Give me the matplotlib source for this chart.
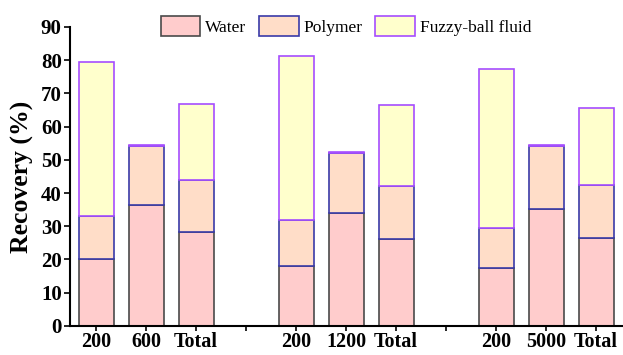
import numpy as np
import matplotlib
matplotlib.use("Agg")
import matplotlib.pyplot as plt
from matplotlib.patches import Patch

# stacked recovery per slug size, three groups with gaps between
labels = ['200', '600', 'Total', '', '200', '1200', 'Total', '', '200', '5000', 'Total']
positions = [0, 1, 2, 4, 5, 6, 8, 9, 10]

water = [20.0, 36.3, 28.2, 18.0, 34.0, 26.2, 17.3, 35.2, 26.6]
polymer = [13.2, 17.8, 15.7, 14.0, 18.2, 15.9, 12.3, 19.0, 15.9]
fuzzy = [46.3, 0.4, 22.8, 49.2, 0.3, 24.4, 47.8, 0.4, 23.1]

plt.rcParams['font.family'] = ['Liberation Serif', 'DejaVu Serif']

fig = plt.figure(figsize=(6.23, 3.55), dpi=100)
ax = fig.add_axes([0.1124, 0.082, 0.886, 0.842])

w = 0.7
water_c = ('#FFCCCC', '#4A4A4A')
poly_c = ('#FFDDC8', '#3A3AA8')
fuzzy_c = ('#FFFFCC', '#A64DFF')

ax.bar(positions, water, w, color=water_c[0], edgecolor=water_c[1], linewidth=1.2)
ax.bar(positions, polymer, w, bottom=water, color=poly_c[0], edgecolor=poly_c[1], linewidth=1.2)
bot2 = np.array(water) + np.array(polymer)
ax.bar(positions, fuzzy, w, bottom=bot2, color=fuzzy_c[0], edgecolor=fuzzy_c[1], linewidth=1.2)

ax.set_xlim(-0.52, 10.52)
ax.set_ylim(0, 90)
ax.set_yticks(np.arange(0, 91, 10))
ax.set_xticks(range(11))
ax.set_xticklabels(labels)
ax.tick_params(axis='both', direction='out', length=4, width=1.2, labelsize=15, pad=2)
ax.tick_params(axis='x', labelsize=14.5, length=3.5, pad=1)
for lab in ax.get_xticklabels() + ax.get_yticklabels():
    lab.set_fontweight('bold')

for side in ['top', 'right']:
    ax.spines[side].set_visible(False)
for side in ['left', 'bottom']:
    ax.spines[side].set_linewidth(1.5)

ax.set_ylabel('Recovery (%)', fontsize=18.5, fontweight='bold', labelpad=5)

handles = [
    Patch(facecolor=water_c[0], edgecolor=water_c[1], linewidth=1.2, label='Water'),
    Patch(facecolor=poly_c[0], edgecolor=poly_c[1], linewidth=1.2, label='Polymer'),
    Patch(facecolor=fuzzy_c[0], edgecolor=fuzzy_c[1], linewidth=1.2, label='Fuzzy-ball fluid'),
]
fig.legend(handles=handles, loc='center', bbox_to_anchor=(0.555, 0.927), ncol=3,
           frameon=False, fontsize=12.5, handlelength=2.3, handleheight=1.4,
           handletextpad=0.25, columnspacing=0.75, borderpad=0.1)

fig.savefig('out.png', dpi=100)
